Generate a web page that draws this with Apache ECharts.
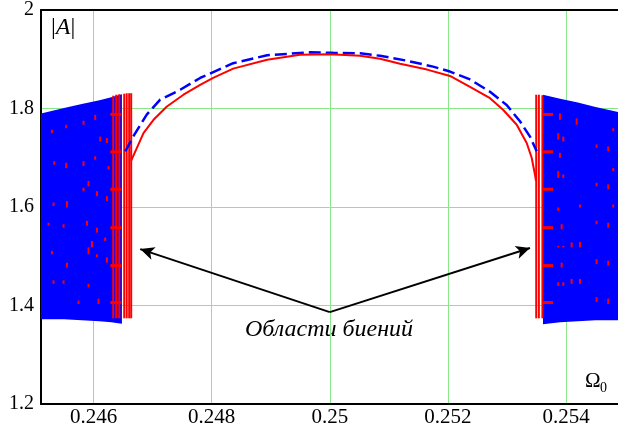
<!DOCTYPE html>
<html><head><meta charset="utf-8">
<script src="https://cdn.jsdelivr.net/npm/echarts@6/dist/echarts.min.js"></script>
<style>html,body{margin:0;padding:0;background:#fff}#c{width:618px;height:432px}</style>
</head><body><div id="c"></div>
<script>
// ---- axis ticks ----
const xTicks = [0.246, 0.248, 0.25, 0.252, 0.254];
const yTicks = [1.2, 1.4, 1.6, 1.8, 2];

// ---- red solid curve (stationary response) ----
const redOmega = [0.246637, 0.246734, 0.246845, 0.247015, 0.247242, 0.247522, 0.247805, 0.248025, 0.248364, 0.248939, 0.249497, 0.25, 0.250513, 0.250851, 0.251190, 0.251647, 0.252035, 0.252374, 0.252713, 0.252938, 0.253165, 0.253334, 0.253418, 0.253474, 0.253491];
const redAmp   = [1.694, 1.720, 1.750, 1.777, 1.804, 1.828, 1.848, 1.862, 1.881, 1.899, 1.909, 1.910, 1.907, 1.901, 1.891, 1.879, 1.866, 1.844, 1.821, 1.797, 1.767, 1.730, 1.700, 1.666, 1.653];

// ---- blue dashed curve ----
const blueOmega = [0.246536, 0.246671, 0.246903, 0.247128, 0.247467, 0.247805, 0.248364, 0.248939, 0.249667, 0.250056, 0.250513, 0.250851, 0.251308, 0.251748, 0.252035, 0.252374, 0.252713, 0.252995, 0.253220, 0.253390, 0.253503];
const blueAmp   = [1.713, 1.743, 1.788, 1.818, 1.838, 1.862, 1.892, 1.908, 1.914, 1.913, 1.912, 1.907, 1.897, 1.885, 1.875, 1.859, 1.834, 1.807, 1.774, 1.743, 1.713];

// ---- blue beating bands (envelopes) ----
const bandLeftOmega  = [0.24511, 0.2455, 0.2458, 0.2461, 0.2463, 0.24648];
const bandLeftTop    = [1.790, 1.801, 1.809, 1.817, 1.823, 1.829];
const bandLeftBottom = [1.372, 1.372, 1.370, 1.368, 1.366, 1.363];
const bandRightOmega  = [0.25361, 0.2539, 0.2542, 0.2545, 0.25488];
const bandRightTop    = [1.828, 1.820, 1.812, 1.803, 1.793];
const bandRightBottom = [1.362, 1.366, 1.368, 1.370, 1.370];

// ---- red beating lines at region edges ----
const redLineOmega = [0.246333, 0.246384, 0.246435, 0.246519, 0.246561, 0.246603, 0.246637, 0.253495, 0.253540, 0.253600];
const redLineLow   = [1.374, 1.374, 1.374, 1.374, 1.374, 1.374, 1.374, 1.374, 1.374, 1.374];
const redLineHigh  = [1.826, 1.828, 1.829, 1.830, 1.831, 1.831, 1.831, 1.828, 1.828, 1.827];

// ---- small red dashes inside the beating bands ----
const dashOmega = [0.245295, 0.245537, 0.245830, 0.246028, 0.246113, 0.246226, 0.245334, 0.245537, 0.245830, 0.246028, 0.246253, 0.245322, 0.245549, 0.245830, 0.245915, 0.246057, 0.246226, 0.245238, 0.245492, 0.245888, 0.245972, 0.246057, 0.246197, 0.245295, 0.245549, 0.245915, 0.246057, 0.246226, 0.245322, 0.245492, 0.245746, 0.245915, 0.246084,
  0.253897, 0.254180, 0.253869, 0.253953, 0.253897, 0.254715, 0.254518, 0.254799, 0.253869, 0.253953, 0.254518, 0.254715, 0.254799, 0.254236, 0.253869, 0.254799, 0.253926, 0.254518, 0.254715, 0.253869, 0.253953, 0.254095, 0.254236, 0.253926, 0.254518, 0.254715, 0.253869, 0.253953, 0.254095, 0.254236, 0.254518, 0.254715];
const dashLow = [1.750, 1.760, 1.767, 1.777, 1.733, 1.730, 1.686, 1.679, 1.683, 1.696, 1.676, 1.602, 1.599, 1.632, 1.642, 1.622, 1.612, 1.562, 1.558, 1.562, 1.518, 1.548, 1.531, 1.504, 1.477, 1.504, 1.498, 1.487, 1.444, 1.444, 1.403, 1.437, 1.403,
  1.777, 1.767, 1.737, 1.733, 1.700, 1.713, 1.720, 1.754, 1.659, 1.659, 1.642, 1.636, 1.673, 1.599, 1.592, 1.599, 1.555, 1.565, 1.558, 1.518, 1.518, 1.518, 1.518, 1.477, 1.484, 1.481, 1.440, 1.440, 1.444, 1.444, 1.407, 1.403];
const dashHigh = [1.757, 1.767, 1.775, 1.787, 1.743, 1.740, 1.693, 1.690, 1.693, 1.703, 1.683, 1.609, 1.612, 1.639, 1.653, 1.632, 1.622, 1.568, 1.565, 1.572, 1.531, 1.558, 1.538, 1.511, 1.487, 1.518, 1.504, 1.498, 1.451, 1.451, 1.410, 1.444, 1.414,
  1.790, 1.780, 1.750, 1.743, 1.710, 1.723, 1.727, 1.760, 1.673, 1.666, 1.649, 1.646, 1.679, 1.605, 1.599, 1.605, 1.565, 1.572, 1.568, 1.521, 1.521, 1.528, 1.529, 1.487, 1.494, 1.491, 1.447, 1.447, 1.454, 1.454, 1.417, 1.414];

// ---- red horizontal marks next to the beating edges ----
const markAmp = [1.788, 1.712, 1.636, 1.558, 1.481, 1.406];
const markLeftOmega  = [0.246284, 0.246470];
const markRightOmega = [0.253610, 0.253779];

// ---- annotation arrows ----
const arrowFrom  = [0.25, 1.3865];
const arrowLeft  = [0.24679, 1.5145];
const arrowRight = [0.25339, 1.5166];

const SERIF = '"Liberation Serif", "DejaVu Serif", serif';
const GRID = '#88e888';

function zip2(a, b) { return a.map((v, i) => [v, b[i]]); }
function zip3(a, b, c) { return a.map((v, i) => [v, b[i], c[i]]); }

function bandRender(om, top, bot) {
  return function (params, api) {
    const pts = [];
    for (let i = 0; i < om.length; i++) pts.push(api.coord([om[i], top[i]]));
    for (let i = om.length - 1; i >= 0; i--) pts.push(api.coord([om[i], bot[i]]));
    return { type: 'polygon', shape: { points: pts }, style: { fill: '#0000ff' } };
  };
}
function vsegRender(width) {
  return function (params, api) {
    const p1 = api.coord([api.value(0), api.value(1)]);
    const p2 = api.coord([api.value(0), api.value(2)]);
    return { type: 'line', shape: { x1: p1[0], y1: p1[1], x2: p2[0], y2: p2[1] },
      style: { stroke: '#ff0000', lineWidth: width } };
  };
}
function hsegRender(params, api) {
  const p1 = api.coord([api.value(0), api.value(2)]);
  const p2 = api.coord([api.value(1), api.value(2)]);
  return { type: 'line', shape: { x1: p1[0], y1: p1[1], x2: p2[0], y2: p2[1] },
    style: { stroke: '#ff0000', lineWidth: 3 } };
}

const chart = echarts.init(document.getElementById('c'), null, { renderer: 'canvas' });
chart.setOption({
  animation: false,
  backgroundColor: '#fff',
  grid: { left: 41, right: 0, top: 8, bottom: 28 },
  xAxis: [{
    type: 'value', min: 0.24511, max: 0.25488,
    axisLine: { show: true, lineStyle: { color: '#000', width: 2 } },
    axisTick: { show: false, customValues: xTicks },
    axisLabel: { customValues: xTicks, color: '#000', fontFamily: SERIF, fontSize: 21, margin: 3,
      formatter: v => String(+v.toFixed(3)) },
    splitLine: { show: true, lineStyle: { color: GRID, width: 1 } }
  }, {
    type: 'value', position: 'top', min: 0.24511, max: 0.25488,
    axisLine: { show: true, onZero: false, lineStyle: { color: '#000', width: 2 } },
    axisTick: { show: false }, axisLabel: { show: false }, splitLine: { show: false }
  }],
  yAxis: {
    type: 'value', min: 1.2, max: 2, interval: 0.2,
    axisLine: { show: true, lineStyle: { color: '#000', width: 2 } },
    axisTick: { show: false },
    axisLabel: { color: '#000', fontFamily: SERIF, fontSize: 20, margin: 7,
      formatter: v => String(+v.toFixed(1)) },
    splitLine: { show: true, lineStyle: { color: GRID, width: 1 } }
  },
  graphic: [
    { type: 'text', left: 51, top: 16, style: { text: '{n||}{i|A}{n||}', rich: {
        n: { fontFamily: SERIF, fontSize: 24, fill: '#000' },
        i: { fontFamily: SERIF, fontSize: 24, fontStyle: 'italic', fill: '#000' } } } },
    { type: 'text', left: 585, top: 371, style: { text: 'Ω', fontFamily: SERIF, fontSize: 21, fill: '#000' } },
    { type: 'text', left: 600, top: 381, style: { text: '0', fontFamily: SERIF, fontSize: 14, fill: '#000' } },
    { type: 'text', x: 329, y: 330, style: { text: 'Области биений', fontFamily: SERIF, fontSize: 24,
        fontStyle: 'italic', fill: '#000', align: 'center', verticalAlign: 'middle' } }
  ],
  series: [
    { type: 'custom', name: 'bandL', renderItem: bandRender(bandLeftOmega, bandLeftTop, bandLeftBottom),
      data: [[bandLeftOmega[0], bandLeftTop[0]]], encode: { x: 0, y: 1 }, silent: true, z: 2 },
    { type: 'custom', name: 'bandR', renderItem: bandRender(bandRightOmega, bandRightTop, bandRightBottom),
      data: [[bandRightOmega[0], bandRightTop[0]]], encode: { x: 0, y: 1 }, silent: true, z: 2 },
    { type: 'custom', name: 'redDashes', renderItem: vsegRender(2),
      data: zip3(dashOmega, dashLow, dashHigh), encode: { x: 0, y: [1, 2] }, silent: true, z: 3 },
    { type: 'custom', name: 'redLines', renderItem: vsegRender(2),
      data: zip3(redLineOmega, redLineLow, redLineHigh), encode: { x: 0, y: [1, 2] }, silent: true, z: 3 },
    { type: 'custom', name: 'redMarksL', renderItem: hsegRender,
      data: markAmp.map(a => [markLeftOmega[0], markLeftOmega[1], a]), encode: { x: [0, 1], y: 2 }, silent: true, z: 3 },
    { type: 'custom', name: 'redMarksR', renderItem: hsegRender,
      data: markAmp.map(a => [markRightOmega[0], markRightOmega[1], a]), encode: { x: [0, 1], y: 2 }, silent: true, z: 3 },
    { type: 'line', name: 'blue', data: zip2(blueOmega, blueAmp), showSymbol: false, symbol: 'none',
      lineStyle: { color: '#0000ff', width: 2.5, type: [12, 5] }, z: 4 },
    { type: 'line', name: 'red', data: zip2(redOmega, redAmp), showSymbol: false, symbol: 'none',
      lineStyle: { color: '#ff0000', width: 2 }, z: 5,
      markLine: { silent: true, symbol: ['none', 'arrow'], symbolSize: [10, 14],
        lineStyle: { color: '#000', width: 2, type: 'solid' }, label: { show: false },
        data: [[{ coord: arrowFrom }, { coord: arrowLeft }], [{ coord: arrowFrom }, { coord: arrowRight }]] } }
  ]
});
</script></body></html>
